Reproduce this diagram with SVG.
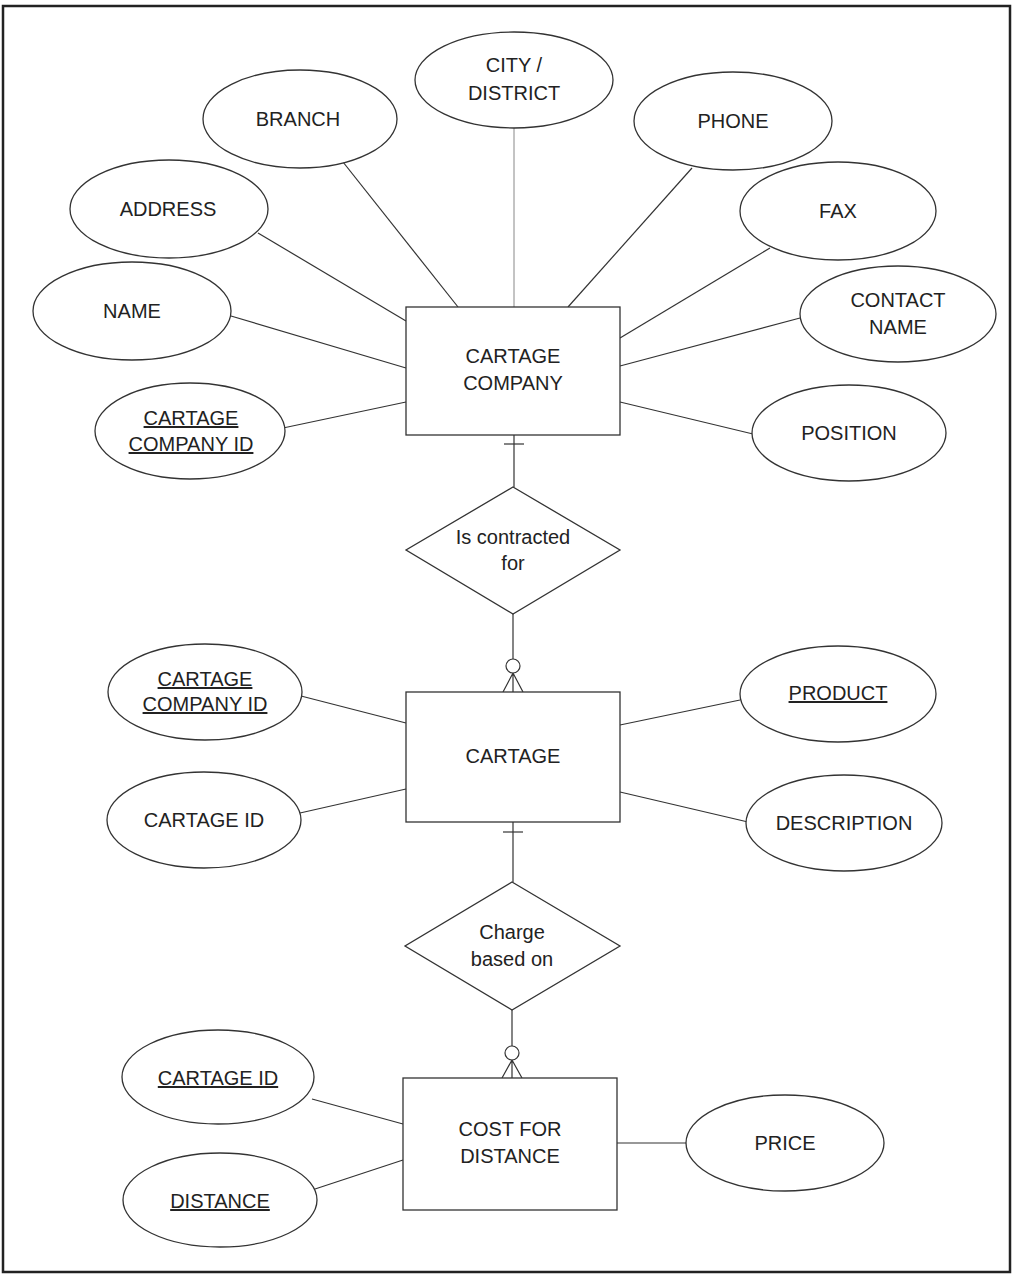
<svg xmlns="http://www.w3.org/2000/svg" width="1013" height="1278" viewBox="0 0 1013 1278">
  <style>
    .frame { fill: #fff; stroke: #222; stroke-width: 2.5; }
    .attr, .ent, .rel { fill: #fff; stroke: #333; stroke-width: 1.3; }
    .lbl { font-family: "Liberation Sans", Arial, sans-serif; font-size: 20px; fill: #222; text-anchor: middle; }
    .key { text-decoration: underline; }
    .conn line, .conn path { stroke: #333; stroke-width: 1.2; fill: none; }
    .conn circle { fill: #fff; stroke: #333; stroke-width: 1.2; }
    .conn .faint { stroke: #888; stroke-width: 1; }
  </style>

  <rect class="frame" x="3" y="6" width="1007" height="1266"/>

  <!-- connectors -->
  <g id="connectors" class="conn">
    <!-- CARTAGE COMPANY attributes -->
    <line class="faint" x1="514" y1="128" x2="514" y2="307"/>
    <line x1="343" y1="162" x2="458" y2="307"/>
    <line x1="692" y1="168" x2="568" y2="307"/>
    <line x1="258" y1="233" x2="406" y2="321"/>
    <line x1="770" y1="248" x2="620" y2="338"/>
    <line x1="231" y1="316" x2="406" y2="368"/>
    <line x1="800" y1="318" x2="620" y2="366"/>
    <line x1="283" y1="428" x2="406" y2="402"/>
    <line x1="753" y1="434" x2="620" y2="402"/>

    <!-- CARTAGE COMPANY to Is contracted for (one) -->
    <line x1="514" y1="435" x2="514" y2="487"/>
    <line x1="504" y1="444" x2="524" y2="444"/>
    <!-- Is contracted for to CARTAGE (zero or many) -->
    <line x1="513" y1="614" x2="513" y2="659"/>
    <circle cx="513" cy="666" r="7"/>
    <path d="M513 673 L503 692 M513 673 L513 692 M513 673 L523 692"/>

    <!-- CARTAGE attributes -->
    <line x1="301" y1="696" x2="406" y2="723"/>
    <line x1="300" y1="813" x2="406" y2="789"/>
    <line x1="740" y1="700" x2="620" y2="725"/>
    <line x1="748" y1="822" x2="620" y2="792"/>

    <!-- CARTAGE to Charge based on (one) -->
    <line x1="513" y1="822" x2="513" y2="882"/>
    <line x1="503" y1="832" x2="523" y2="832"/>
    <!-- Charge based on to COST FOR DISTANCE (zero or many) -->
    <line x1="512" y1="1010" x2="512" y2="1046"/>
    <circle cx="512" cy="1053" r="7"/>
    <path d="M512 1060 L502 1078 M512 1060 L512 1078 M512 1060 L522 1078"/>

    <!-- COST FOR DISTANCE attributes -->
    <line x1="312" y1="1099" x2="403" y2="1124"/>
    <line x1="312" y1="1190" x2="403" y2="1160"/>
    <line x1="686" y1="1143" x2="617" y2="1143"/>
  </g>

  <!-- entity: CARTAGE COMPANY -->
  <g id="cartage-company">
    <rect class="ent" x="406" y="307" width="214" height="128"/>
    <text class="lbl" x="513" y="363">CARTAGE</text>
    <text class="lbl" x="513" y="390">COMPANY</text>
  </g>
  <g id="cc-city">
    <ellipse class="attr" cx="514" cy="80" rx="99" ry="48"/>
    <text class="lbl" x="514" y="72">CITY /</text>
    <text class="lbl" x="514" y="100">DISTRICT</text>
  </g>
  <g id="cc-branch">
    <ellipse class="attr" cx="300" cy="119" rx="97" ry="49"/>
    <text class="lbl" x="298" y="126">BRANCH</text>
  </g>
  <g id="cc-phone">
    <ellipse class="attr" cx="733" cy="121" rx="99" ry="49"/>
    <text class="lbl" x="733" y="128">PHONE</text>
  </g>
  <g id="cc-address">
    <ellipse class="attr" cx="169" cy="209" rx="99" ry="49"/>
    <text class="lbl" x="168" y="216">ADDRESS</text>
  </g>
  <g id="cc-fax">
    <ellipse class="attr" cx="838" cy="211" rx="98" ry="49"/>
    <text class="lbl" x="838" y="218">FAX</text>
  </g>
  <g id="cc-name">
    <ellipse class="attr" cx="132" cy="311" rx="99" ry="49"/>
    <text class="lbl" x="132" y="318">NAME</text>
  </g>
  <g id="cc-contact-name">
    <ellipse class="attr" cx="898" cy="314" rx="98" ry="48"/>
    <text class="lbl" x="898" y="307">CONTACT</text>
    <text class="lbl" x="898" y="334">NAME</text>
  </g>
  <g id="cc-id">
    <ellipse class="attr" cx="190" cy="431" rx="95" ry="48"/>
    <text class="lbl key" x="191" y="425">CARTAGE</text>
    <text class="lbl key" x="191" y="451">COMPANY ID</text>
  </g>
  <g id="cc-position">
    <ellipse class="attr" cx="849" cy="433" rx="97" ry="48"/>
    <text class="lbl" x="849" y="440">POSITION</text>
  </g>

  <!-- relationship: Is contracted for -->
  <g id="is-contracted-for">
    <polygon class="rel" points="513,487 620,550 513,614 406,550"/>
    <text class="lbl" x="513" y="544">Is contracted</text>
    <text class="lbl" x="513" y="570">for</text>
  </g>

  <!-- entity: CARTAGE -->
  <g id="cartage">
    <rect class="ent" x="406" y="692" width="214" height="130"/>
    <text class="lbl" x="513" y="763">CARTAGE</text>
  </g>
  <g id="ca-company-id">
    <ellipse class="attr" cx="205" cy="692" rx="97" ry="48"/>
    <text class="lbl key" x="205" y="686">CARTAGE</text>
    <text class="lbl key" x="205" y="711">COMPANY ID</text>
  </g>
  <g id="ca-id">
    <ellipse class="attr" cx="204" cy="820" rx="97" ry="48"/>
    <text class="lbl" x="204" y="827">CARTAGE ID</text>
  </g>
  <g id="ca-product">
    <ellipse class="attr" cx="838" cy="694" rx="98" ry="48"/>
    <text class="lbl key" x="838" y="700">PRODUCT</text>
  </g>
  <g id="ca-description">
    <ellipse class="attr" cx="844" cy="823" rx="98" ry="48"/>
    <text class="lbl" x="844" y="830">DESCRIPTION</text>
  </g>

  <!-- relationship: Charge based on -->
  <g id="charge-based-on">
    <polygon class="rel" points="512,882 620,946 512,1010 405,946"/>
    <text class="lbl" x="512" y="939">Charge</text>
    <text class="lbl" x="512" y="966">based on</text>
  </g>

  <!-- entity: COST FOR DISTANCE -->
  <g id="cost-for-distance">
    <rect class="ent" x="403" y="1078" width="214" height="132"/>
    <text class="lbl" x="510" y="1136">COST FOR</text>
    <text class="lbl" x="510" y="1163">DISTANCE</text>
  </g>
  <g id="cd-cartage-id">
    <ellipse class="attr" cx="218" cy="1077" rx="96" ry="47"/>
    <text class="lbl key" x="218" y="1085">CARTAGE ID</text>
  </g>
  <g id="cd-distance">
    <ellipse class="attr" cx="220" cy="1200" rx="97" ry="47"/>
    <text class="lbl key" x="220" y="1208">DISTANCE</text>
  </g>
  <g id="cd-price">
    <ellipse class="attr" cx="785" cy="1143" rx="99" ry="48"/>
    <text class="lbl" x="785" y="1150">PRICE</text>
  </g>
</svg>
